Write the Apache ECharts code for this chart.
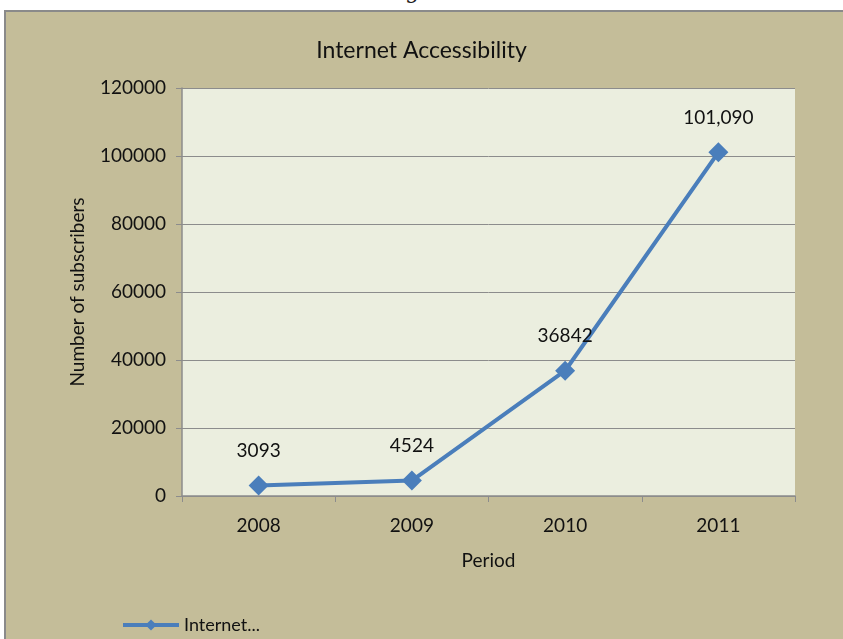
<!DOCTYPE html>
<html>
<head>
<meta charset="utf-8">
<script src="https://cdn.jsdelivr.net/npm/echarts@6/dist/echarts.min.js"></script>
<style>
  html, body { margin: 0; padding: 0; background: #fff; }
  #wrap { position: relative; width: 843px; height: 639px; overflow: hidden; }
  #frame {
    position: absolute; left: 4px; top: 10px; width: 860px; height: 660px;
    background: #c4bd99; border-left: 2px solid #8a8a8a; border-top: 2px solid #8a8a8a;
  }
  #topText {
    position: absolute; left: 405px; top: -22px; font: 22px "DejaVu Serif", serif; color: #222;
  }
  #chart { position: absolute; left: 0; top: 0; width: 843px; height: 639px; }
</style>
</head>
<body>
<div id="wrap">
  <div id="topText">g</div>
  <div id="frame"></div>
  <div id="chart"></div>
</div>
<script>
// values
var periods = ['2008', '2009', '2010', '2011'];
var subscribers = [3093, 4524, 36842, 101090];
var pointLabels = ['3093', '4524', '36842', '101,090'];
var yTicks = [0, 20000, 40000, 60000, 80000, 100000, 120000];

var font = 'Lato, "Open Sans", sans-serif';
var myChart = echarts.init(document.getElementById('chart'));

myChart.setOption({
  backgroundColor: 'transparent',
  animation: false,
  textStyle: { fontFamily: font },
  title: {
    text: 'Internet Accessibility',
    left: 'center',
    top: 34,
    textStyle: { fontFamily: font, fontSize: 23, fontWeight: 'normal', color: '#111' }
  },
  legend: {
    left: 116,
    top: 611,
    itemWidth: 56,
    itemHeight: 14,
    itemGap: 6,
    lineStyle: { width: 4 },
    textStyle: { fontFamily: font, fontSize: 18, color: '#111' },
    data: ['Internet...']
  },
  grid: {
    left: 182, top: 88, right: 48, bottom: 143,
    show: true, backgroundColor: '#ebeedf', borderWidth: 0
  },
  xAxis: {
    type: 'category',
    data: periods,
    boundaryGap: true,
    name: 'Period',
    nameLocation: 'middle',
    nameGap: 55,
    nameTextStyle: { fontFamily: font, fontSize: 19, color: '#111' },
    axisLine: { lineStyle: { color: '#8c8c8c', width: 1.5 } },
    axisTick: { show: true, length: 6, lineStyle: { color: '#8c8c8c' } },
    axisLabel: { fontFamily: font, fontSize: 19, color: '#111', margin: 20 },
    splitLine: { show: false }
  },
  yAxis: {
    type: 'value',
    min: yTicks[0],
    max: yTicks[yTicks.length - 1],
    interval: yTicks[1] - yTicks[0],
    name: 'Number of subscribers',
    nameLocation: 'middle',
    nameGap: 95,
    nameRotate: 90,
    nameTextStyle: { fontFamily: font, fontSize: 19, color: '#111' },
    axisLine: { show: true, lineStyle: { color: '#8c8c8c', width: 1.5 } },
    axisTick: { show: true, length: 6, lineStyle: { color: '#8c8c8c' } },
    axisLabel: {
      fontFamily: font, fontSize: 19, color: '#111', margin: 16,
      formatter: function (v) { return String(v); }
    },
    splitLine: { show: true, lineStyle: { color: '#8c8c8c', width: 1 } }
  },
  series: [{
    name: 'Internet...',
    type: 'line',
    data: subscribers,
    symbol: 'diamond',
    symbolSize: 20,
    itemStyle: { color: '#4a7ebb' },
    lineStyle: { color: '#4a7ebb', width: 4 },
    label: {
      show: true,
      position: 'top',
      distance: 15,
      fontFamily: font,
      fontSize: 19,
      color: '#111',
      formatter: function (p) { return pointLabels[p.dataIndex]; }
    }
  }]
});
</script>
</body>
</html>
